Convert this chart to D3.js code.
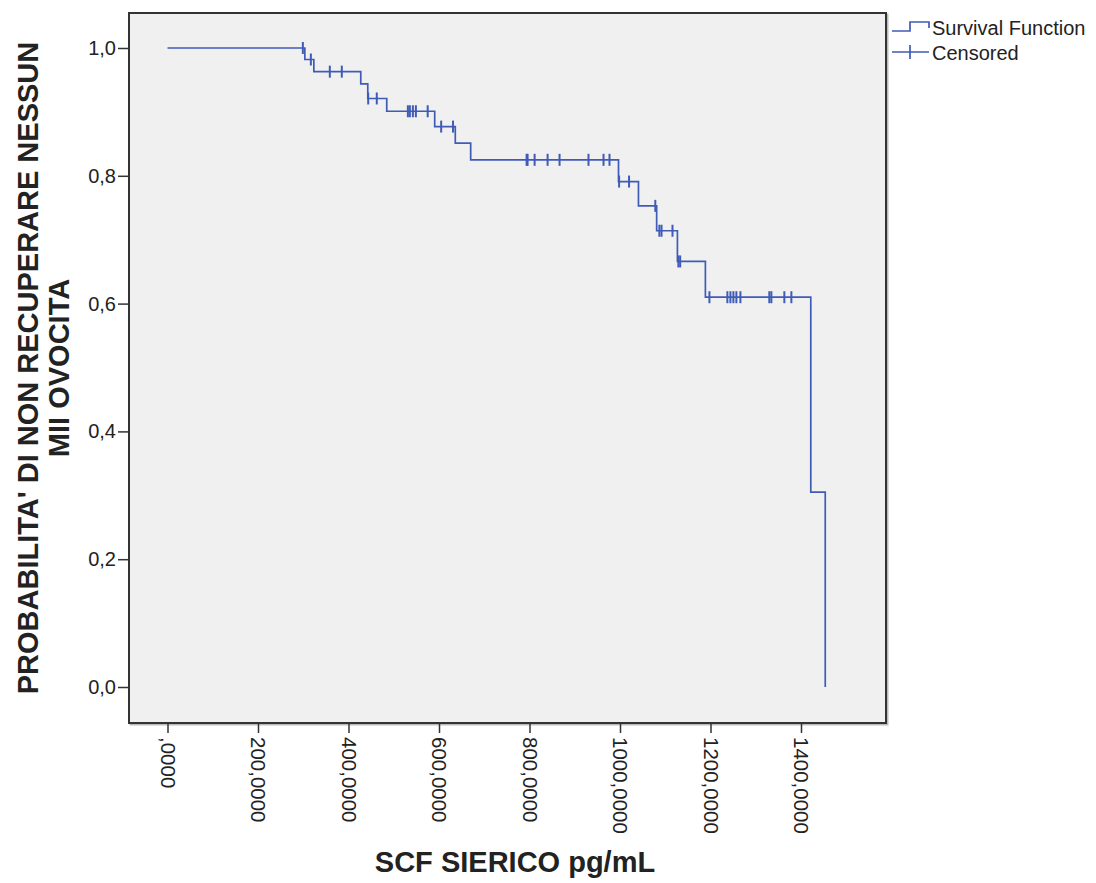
<!DOCTYPE html>
<meta charset="utf-8">
<style>

body {
  margin: 0;
  background: #fff;
}

text {
  font-family: "Liberation Sans", Arial, sans-serif;
  fill: #222;
}

.tick text {
  font-size: 20px;
}

.title {
  font-size: 29px;
  font-weight: bold;
}

.curve {
  fill: none;
  stroke: #3f5bb6;
  stroke-width: 1.7;
}

.cens {
  stroke: #3f5bb6;
  stroke-width: 2;
}

</style>
<body>
<script src="https://cdnjs.cloudflare.com/ajax/libs/d3/7.8.5/d3.min.js"></script>
<script>

// event times (pg/mL) and survival level after each event
var eventTimes = [303500, 323400, 427100, 442600, 484500, 590500, 636000, 670000,
	996700, 1040800, 1081000, 1126900, 1188700, 1421600, 1453600],
	survival = [0.982, 0.963, 0.944, 0.921, 0.901, 0.877, 0.851, 0.825,
	0.791, 0.753, 0.714, 0.666, 0.610, 0.305, 0.0],
	censorTimes = [299100, 316800, 358700, 385200, 443500, 462500,
	531200, 535600, 542300, 548900, 575000, 604800, 631000,
	793600, 795800, 811300, 840000, 866400, 930400, 963600, 976800,
	998000, 1020000, 1078000, 1087000, 1091800, 1116000, 1129000, 1133000,
	1197600, 1237300, 1244000, 1250600, 1257200, 1266100, 1330000, 1334500, 1363200, 1378700],
	xTicks = [0, 200000, 400000, 600000, 800000, 1000000, 1200000, 1400000],
	xTickLabels = [",0000", "200,0000", "400,0000", "600,0000", "800,0000", "1000,0000", "1200,0000", "1400,0000"],
	yTicks = [0, 0.2, 0.4, 0.6, 0.8, 1.0],
	yTickLabels = ["0,0", "0,2", "0,4", "0,6", "0,8", "1,0"];

var width = 1096,
	height = 883,
	frame = {left: 129, top: 13, right: 886, bottom: 723};

var svg = d3.select("body").append("svg")
	.attr("width", width)
	.attr("height", height);

var x = d3.scaleLinear().domain([0, 1400000]).range([167.5, 801]),
	y = d3.scaleLinear().domain([0, 1]).range([687, 48]);

// plot frame (with a faint shadow)
svg.append("rect")
	.attr("x", frame.left + 1.5)
	.attr("y", frame.top + 1.5)
	.attr("width", frame.right - frame.left)
	.attr("height", frame.bottom - frame.top)
	.attr("fill", "none")
	.attr("stroke", "#bbb")
	.attr("stroke-width", 2);
svg.append("rect")
	.attr("x", frame.left)
	.attr("y", frame.top)
	.attr("width", frame.right - frame.left)
	.attr("height", frame.bottom - frame.top)
	.attr("fill", "#f0f0f0")
	.attr("stroke", "#333")
	.attr("stroke-width", 2);

// axes
var xAxis = d3.axisBottom(x)
	.tickValues(xTicks)
	.tickSize(10)
	.tickFormat(function(d, i) { return xTickLabels[i]; });

var gx = svg.append("g")
	.attr("transform", "translate(0," + frame.bottom + ")")
	.call(xAxis);
gx.select(".domain").remove();
gx.selectAll(".tick line").attr("stroke", "#333").attr("stroke-width", 1.5);
gx.selectAll(".tick text")
	.attr("transform", "rotate(90)")
	.attr("x", 14)
	.attr("y", 0)
	.attr("dy", "0.35em")
	.attr("text-anchor", "start")
	.style("font-size", "20.5px")
	.attr("fill", "#222");

var yAxis = d3.axisLeft(y)
	.tickValues(yTicks)
	.tickSize(11)
	.tickPadding(2)
	.tickFormat(function(d, i) { return yTickLabels[i]; });

var gy = svg.append("g")
	.attr("transform", "translate(" + frame.left + ",0)")
	.call(yAxis);
gy.select(".domain").remove();
gy.selectAll(".tick line").attr("stroke", "#333").attr("stroke-width", 1.5);
gy.selectAll(".tick text").attr("fill", "#222");

// survival step curve
function levelAt(t) {
	var s = 1;
	eventTimes.forEach(function(e, i) { if (e <= t) s = survival[i]; });
	return s;
}

var pts = [[0, 1]];
eventTimes.forEach(function(e, i) {
	pts.push([e, i ? survival[i - 1] : 1]);
	pts.push([e, survival[i]]);
});

svg.append("path")
	.attr("class", "curve")
	.attr("d", d3.line()
		.x(function(d) { return x(d[0]); })
		.y(function(d) { return y(d[1]); })(pts));

// censored marks
svg.selectAll(".cens")
	.data(censorTimes)
	.enter().append("line")
	.attr("class", "cens")
	.attr("x1", function(d) { return x(d); })
	.attr("x2", function(d) { return x(d); })
	.attr("y1", function(d) { return y(levelAt(d)) - 6; })
	.attr("y2", function(d) { return y(levelAt(d)) + 6; });

// titles
svg.append("text")
	.attr("class", "title")
	.attr("x", 515)
	.attr("y", 872)
	.attr("text-anchor", "middle")
	.text("SCF SIERICO pg/mL");

var yt = svg.append("text")
	.attr("class", "title")
	.attr("transform", "translate(38,368) rotate(-90)")
	.attr("text-anchor", "middle");
yt.append("tspan").attr("x", 0).attr("y", 0).text("PROBABILITA' DI NON RECUPERARE NESSUN");
yt.append("tspan").attr("x", 0).attr("y", 31).text("MII OVOCITA");

// legend
var lg = svg.append("g");
lg.append("path")
	.attr("class", "curve")
	.attr("d", "M892,31H910V22H929V28");
lg.append("path")
	.attr("class", "curve")
	.attr("d", "M892,52H929M910,45V59");
lg.append("text")
	.attr("x", 932)
	.attr("y", 35)
	.style("font-size", "20px")
	.text("Survival Function");
lg.append("text")
	.attr("x", 932)
	.attr("y", 60)
	.style("font-size", "20px")
	.text("Censored");

</script>
</body>
</html>
